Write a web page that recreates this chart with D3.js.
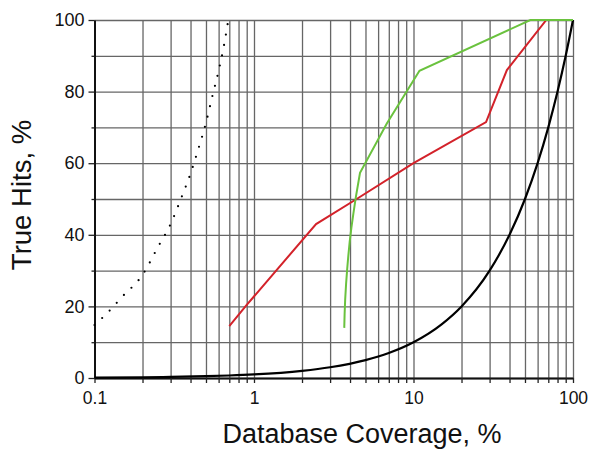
<!DOCTYPE html>
<html lang="en">
<head>
  <meta charset="UTF-8" />
  <script src="https://d3js.org/d3.v7.min.js"></script>
  <style>
    body { margin: 0; background: white; }
    text { font-family: "Liberation Sans", Arial, sans-serif; fill: #111; }
  </style>
</head>
<body>
  <div id='coverageChart'></div>

  <script>
    // coverage (%) vs true hits (%) for each curve
    let randomX = [0.1, 0.2, 0.3, 0.5, 0.7, 1, 2, 3, 5, 7, 10, 15, 20, 30, 40, 50, 60, 70, 80, 90, 100];
    let randomY = [0.1, 0.2, 0.3, 0.5, 0.7, 1, 2, 3, 5, 7, 10, 15, 20, 30, 40, 50, 60, 70, 80, 90, 100];

    let dottedX = [0.1, 0.12, 0.15, 0.2, 0.25, 0.3, 0.35, 0.4, 0.45, 0.5, 0.55, 0.6, 0.65, 0.69];
    let dottedY = [14.8, 18.1, 22.8, 28.8, 36.6, 43, 50.3, 57.1, 64.3, 71.3, 79, 85.8, 93.2, 100];

    let redX = [0.7, 0.9, 2.45, 4.4, 10, 28.5, 38.5, 68, 100];
    let redY = [14.5, 20.4, 43, 50, 60, 71.5, 86, 100, 100];

    let greenX = [3.68, 3.7, 3.73, 3.78, 3.84, 3.9, 3.98, 4.08, 4.2, 4.35, 4.62, 6.79, 10.9, 54, 100];
    let greenY = [14, 18, 22, 26.4, 30.5, 34, 38, 42, 46, 50.5, 57.3, 71, 85.8, 100, 100];

    let xLabels = [0.1, 1, 10, 100];
    let yLabels = [0, 20, 40, 60, 80, 100];

    let margin = {top: 20, right: 17, bottom: 72, left: 94.5},
        width = 590 - margin.left - margin.right,
        height = 450 - margin.top - margin.bottom;

    let svg = d3.select('#coverageChart')
      .append("svg")
        .attr("width", width + margin.left + margin.right)
        .attr("height", height + margin.top + margin.bottom)
      .append("g")
        .attr("transform", "translate(" + margin.left + "," + margin.top + ")");

    let x = d3.scaleLog()
      .domain([0.1, 100])
      .range([0, width]);

    let y = d3.scaleLinear()
      .domain([0, 100])
      .range([height, 0]);

    let xTicks = x.ticks();
    let yTicks = d3.range(0, 101, 10);

    // grid
    svg.append("g")
      .attr("class", "grid")
      .attr("transform", "translate(0," + height + ")")
      .call(d3.axisBottom(x).tickValues(xTicks).tickSize(-height).tickFormat(""))
      .call(g => g.select(".domain").remove())
      .selectAll("line")
        .attr("stroke", "#666")
        .attr("stroke-width", 1.3);

    svg.append("g")
      .attr("class", "grid")
      .call(d3.axisLeft(y).tickValues(yTicks).tickSize(-width).tickFormat(""))
      .call(g => g.select(".domain").remove())
      .selectAll("line")
        .attr("stroke", "#666")
        .attr("stroke-width", 1.3);

    // x axis
    let xAxis = svg.append("g")
      .attr("transform", "translate(0," + height + ")")
      .call(d3.axisBottom(x)
        .tickValues(xTicks)
        .tickSize(5)
        .tickSizeOuter(0)
        .tickFormat(d => xLabels.includes(d) ? d3.format("~g")(d) : ""));
    xAxis.select(".domain").attr("stroke", "#111").attr("stroke-width", 2);
    xAxis.selectAll("line").attr("stroke", "#222").attr("stroke-width", 1.3);
    xAxis.selectAll("text")
      .attr("dy", "1.05em")
      .style("font-size", "17.5px");

    // y axis, major + minor ticks
    let yAxis = svg.append("g")
      .call(d3.axisLeft(y)
        .tickValues(yTicks)
        .tickSize(3)
        .tickSizeOuter(0)
        .tickFormat(d => yLabels.includes(d) ? d : ""));
    yAxis.select(".domain").attr("stroke", "#111").attr("stroke-width", 2);
    yAxis.selectAll(".tick line")
      .attr("x2", d => yLabels.includes(d) ? -6 : -3)
      .attr("stroke", "#222")
      .attr("stroke-width", 1.3);
    yAxis.selectAll("text")
      .attr("x", -10)
      .style("font-size", "18px");

    function series(xs, ys) {
      return xs.map(function(d, i) { return [d, ys[i]]; });
    }

    let line = d3.line()
      .x(function(d) { return x(d[0]); })
      .y(function(d) { return y(d[1]); });

    let smooth = d3.line()
      .curve(d3.curveMonotoneX)
      .x(function(d) { return x(d[0]); })
      .y(function(d) { return y(d[1]); });

    svg.append("path")
      .datum(series(randomX, randomY))
      .attr("d", smooth)
      .attr("fill", "none")
      .attr("stroke", "#000")
      .attr("stroke-width", 2.2);

    svg.append("path")
      .datum(series(dottedX, dottedY))
      .attr("d", smooth)
      .attr("fill", "none")
      .attr("stroke", "#000")
      .attr("stroke-width", 2.2)
      .attr("stroke-linecap", "round")
      .attr("stroke-dasharray", "0,10.5");

    svg.append("path")
      .datum(series(redX, redY))
      .attr("d", line)
      .attr("fill", "none")
      .attr("stroke", "#d3222a")
      .attr("stroke-width", 2);

    svg.append("path")
      .datum(series(greenX, greenY))
      .attr("d", line)
      .attr("fill", "none")
      .attr("stroke", "#6ac23e")
      .attr("stroke-width", 2);

    // axis titles
    svg.append("text")
      .attr("x", 362 - margin.left)
      .attr("y", 443 - margin.top)
      .attr("text-anchor", "middle")
      .style("font-size", "27px")
      .text("Database Coverage, %");

    svg.append("text")
      .attr("transform", "translate(" + (31 - margin.left) + "," + (195 - margin.top) + ")rotate(-90)")
      .attr("text-anchor", "middle")
      .style("font-size", "27.5px")
      .text("True Hits, %");
  </script>
</body>
</html>
